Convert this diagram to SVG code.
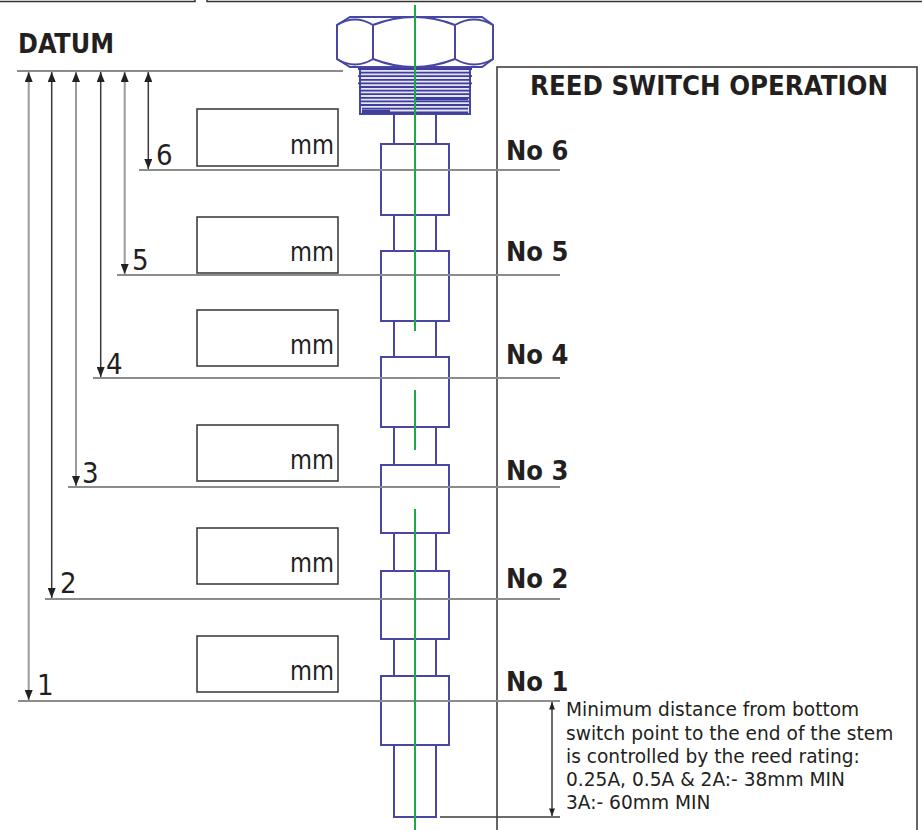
<svg xmlns="http://www.w3.org/2000/svg" width="922" height="830" viewBox="0 0 922 830">
<defs>
<marker id="ah" viewBox="0 0 10 8" refX="10" refY="4" markerWidth="10" markerHeight="8" markerUnits="userSpaceOnUse" orient="auto-start-reverse"><path d="M0,0 L10,4 L0,8 Z" fill="#222"/></marker>
<marker id="ahs" viewBox="0 0 10 8" refX="10" refY="4" markerWidth="9" markerHeight="6" markerUnits="userSpaceOnUse" orient="auto-start-reverse"><path d="M0,0 L10,4 L0,8 Z" fill="#222"/></marker>
</defs>
<style>
.cond{font-family:"DejaVu Sans Condensed","DejaVu Sans","Liberation Sans",sans-serif;fill:#231f20}
.bold{font-weight:bold}
.para{font-family:"DejaVu Sans","Liberation Sans",sans-serif;font-size:18.6px;fill:#231f20}
.lvl{stroke:#8c8c8c;stroke-width:2;fill:none}
.dimg{stroke:#9a9a9a;stroke-width:2;fill:none}
.dimd{stroke:#3a3a3a;stroke-width:1.5;fill:none}
.box{fill:#fff;stroke:#333;stroke-width:1.5}
.blue{stroke:#4747a3;stroke-width:2;fill:#fff}
.bluel{stroke:#4747a3;stroke-width:2;fill:none}
.green{stroke:#1fa848;stroke-width:2;fill:none}
.mm{font-size:27px}
.dig{font-size:29px}
</style>
<rect width="922" height="830" fill="#fff"/>
<g id="frames" fill="none" stroke="#333" stroke-width="1.5">
<path d="M-2,1.5 H195 V-5"/>
<path d="M207,-5 V1.5 H925"/>
<path d="M497,830 V67 H917 V835"/>
</g>
<text id="datum" class="cond bold" x="18" y="53" font-size="27" textLength="96" lengthAdjust="spacingAndGlyphs">DATUM</text>
<text id="title" class="cond bold" x="530" y="95" font-size="27" textLength="358" lengthAdjust="spacingAndGlyphs">REED SWITCH OPERATION</text>
<g id="levels">
<line class="lvl" x1="17" y1="71" x2="343" y2="71"/>
<line class="lvl" x1="139" y1="170" x2="560" y2="170" stroke="#6e6e6e"/>
<line class="lvl" x1="117" y1="275" x2="560" y2="275"/>
<line class="lvl" x1="93" y1="378" x2="560" y2="378"/>
<line class="lvl" x1="68" y1="487" x2="560" y2="487"/>
<line class="lvl" x1="45" y1="599" x2="560" y2="599"/>
<line class="lvl" x1="18" y1="701" x2="560" y2="701"/>
</g>
<g id="connectors">
<line class="dimg" x1="28.7" y1="72" x2="28.7" y2="700" marker-start="url(#ah)" marker-end="url(#ah)"/>
<line class="dimd" x1="51.7" y1="72" x2="51.7" y2="598" marker-start="url(#ah)" marker-end="url(#ah)"/>
<line class="dimg" x1="76" y1="72" x2="76" y2="486" marker-start="url(#ah)" marker-end="url(#ah)"/>
<line class="dimd" x1="100.7" y1="72" x2="100.7" y2="377" marker-start="url(#ah)" marker-end="url(#ah)"/>
<line class="dimg" x1="124.7" y1="72" x2="124.7" y2="274" marker-start="url(#ah)" marker-end="url(#ah)"/>
<line class="dimd" x1="148.3" y1="72" x2="148.3" y2="169" marker-start="url(#ah)" marker-end="url(#ah)"/>
<line class="dimd" x1="440" y1="817" x2="560" y2="817"/>
<line class="dimd" x1="552" y1="702" x2="552" y2="816" marker-start="url(#ahs)" marker-end="url(#ahs)"/>
</g>
<g id="level-labels" class="cond dig">
<text x="156" y="165">6</text>
<text x="132" y="270">5</text>
<text x="106" y="374">4</text>
<text x="82" y="483">3</text>
<text x="60" y="593">2</text>
<text x="37" y="695">1</text>
</g>
<g id="mm-boxes">
<g id="box6"><rect class="box" x="197" y="109" width="141" height="57"/><text class="cond mm" x="290" y="154" textLength="44" lengthAdjust="spacingAndGlyphs">mm</text></g>
<g id="box5"><rect class="box" x="197" y="217" width="141" height="56"/><text class="cond mm" x="290" y="261" textLength="44" lengthAdjust="spacingAndGlyphs">mm</text></g>
<g id="box4"><rect class="box" x="197" y="310" width="141" height="56"/><text class="cond mm" x="290" y="354" textLength="44" lengthAdjust="spacingAndGlyphs">mm</text></g>
<g id="box3"><rect class="box" x="197" y="425" width="141" height="56"/><text class="cond mm" x="290" y="469" textLength="44" lengthAdjust="spacingAndGlyphs">mm</text></g>
<g id="box2"><rect class="box" x="197" y="528" width="141" height="56"/><text class="cond mm" x="290" y="572" textLength="44" lengthAdjust="spacingAndGlyphs">mm</text></g>
<g id="box1"><rect class="box" x="197" y="636" width="141" height="56"/><text class="cond mm" x="290" y="680" textLength="44" lengthAdjust="spacingAndGlyphs">mm</text></g>
</g>
<g id="switch-labels" class="cond bold" font-size="27">
<text x="506" y="160">No 6</text>
<text x="506" y="261">No 5</text>
<text x="506" y="364">No 4</text>
<text x="506" y="480">No 3</text>
<text x="506" y="588">No 2</text>
<text x="506" y="691">No 1</text>
</g>
<g id="stem">
<g id="hex-nut">
<path class="blue" d="M350,17 H482 L493,25 V59 L482,67 H350 L337,59 V25 Z"/>
<path class="bluel" d="M337,25 Q355,14 373,25 Q414,9 455,25 Q474,14 493,25 M337,59 Q355,70 373,59 Q414,75 455,59 Q474,70 493,59 M373,25 V59 M455,25 V59"/>
</g>
<g id="thread">
<rect x="360" y="67" width="110" height="47" fill="#e4e4f4" stroke="#4747a3" stroke-width="2"/>
<path stroke="#3d3d9c" stroke-width="1.8" fill="none" d="M358,69 H472 M359,72.6 H471 M358,76.2 H472 M359,79.8 H471 M358,83.4 H472 M359,87 H471 M359,90.6 H470 M360,94.2 H470 M360,97.8 H470 M361,101.4 H469 M361,105 H469 M362,108.6 H468 M362,112.5 H468"/>
<path stroke="#3d3d9c" stroke-width="2.6" d="M362,111 H390 M416,99 H468"/>
</g>
<g id="tube" class="bluel">
<path d="M394,114 V144 M436,114 V144 M394,215 V251 M436,215 V251 M394,321 V357 M436,321 V357 M394,427 V465 M436,427 V465 M394,533 V571 M436,533 V571 M394,639 V676 M436,639 V676"/>
<path d="M394,745 V817 H436 V745"/>
</g>
<g id="floats">
<rect class="blue" x="381" y="144" width="68" height="71"/>
<rect class="blue" x="381" y="251" width="68" height="70"/>
<rect class="blue" x="381" y="357" width="68" height="70"/>
<rect class="blue" x="381" y="465" width="68" height="68"/>
<rect class="blue" x="381" y="571" width="68" height="68"/>
<rect class="blue" x="381" y="676" width="68" height="69"/>
</g>
<g id="level-overlay">
<line class="lvl" x1="380" y1="170" x2="450" y2="170" stroke="#6e6e6e"/>
<line class="lvl" x1="380" y1="275" x2="450" y2="275"/>
<line class="lvl" x1="380" y1="378" x2="450" y2="378"/>
<line class="lvl" x1="380" y1="487" x2="450" y2="487"/>
<line class="lvl" x1="380" y1="599" x2="450" y2="599"/>
<line class="lvl" x1="380" y1="701" x2="450" y2="701"/>
</g>
<path id="centreline" class="green" d="M415,5 V331 M415,390 V450 M415,509 V830"/>
</g>
<g id="note" class="para">
<text x="566" y="716">Minimum distance from bottom</text>
<text x="566" y="740">switch point to the end of the stem</text>
<text x="566" y="763">is controlled by the reed rating:</text>
<text x="566" y="786">0.25A, 0.5A &amp; 2A:- 38mm MIN</text>
<text x="566" y="809">3A:- 60mm MIN</text>
</g>
</svg>
